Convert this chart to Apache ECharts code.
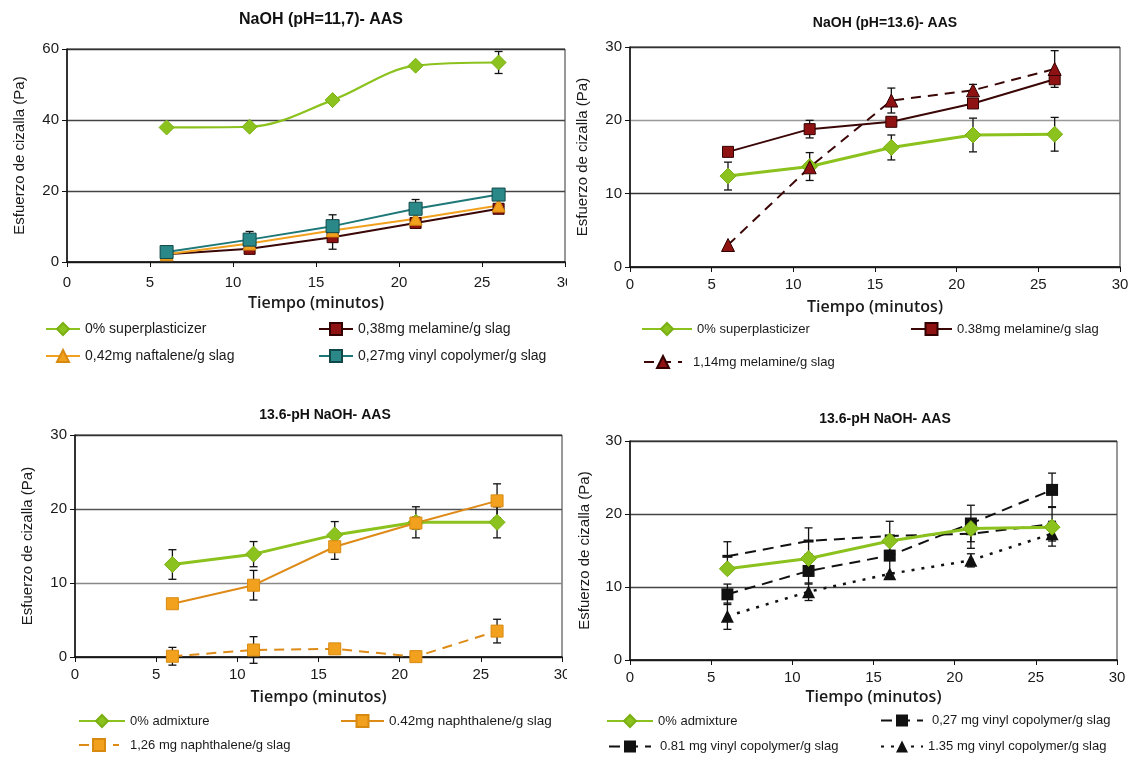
<!DOCTYPE html>
<html>
<head>
<meta charset="utf-8">
<script src="https://cdn.jsdelivr.net/npm/echarts@6/dist/echarts.min.js"></script>
<style>
  html, body { margin: 0; padding: 0; background: #ffffff; }
  #wrap { position: relative; width: 1137px; height: 757px; overflow: hidden; }
  #right { position: absolute; left: 0; top: 0; width: 1137px; height: 757px; }
  #leftClip { position: absolute; left: 0; top: 0; width: 567px; height: 757px; overflow: hidden; }
  #left { width: 1137px; height: 757px; }
</style>
</head>
<body>
<div id="wrap">
  <div id="right"></div>
  <div id="leftClip"><div id="left"></div></div>
</div>
<script>
// Sampling times (minutes)
const time = [6, 11, 16, 21, 26];
const xTicks = [0, 5, 10, 15, 20, 25, 30];

// NaOH (pH=11,7)
const a_plain = [37.9, 38.1, 45.6, 55.3, 56.2];
const a_plainErr = [null, null, null, null, 3.1];
const a_melamine = [2.2, 3.7, 7.0, 11.0, 15.0];
const a_melamineErr = [null, null, 3.4, null, null];
const a_naft = [2.2, 5.2, 8.9, 12.2, 15.9];
const a_vinyl = [2.8, 6.3, 10.1, 15.0, 19.0];
const a_vinylErr = [null, 2.3, 3.2, 2.6, 1.3];

// NaOH (pH=13.6)
const b_plain = [12.4, 13.7, 16.3, 18.0, 18.1];
const b_plainErr = [1.9, 1.9, 1.7, 2.3, 2.3];
const b_melamine = [15.7, 18.8, 19.8, 22.3, 25.6];
const b_melamineErr = [null, 1.2, null, null, null];
const b_melamineHi = [3.0, 13.6, 22.7, 24.1, 27.0];
const b_melamineHiErr = [null, null, 1.7, 0.8, 2.5];

// 13.6-pH NaOH, naphthalene
const c_plain = [12.5, 13.9, 16.5, 18.2, 18.2];
const c_plainErr = [2.0, 1.7, 1.8, 2.1, 2.1];
const c_naph = [7.2, 9.7, 14.9, 18.1, 21.1];
const c_naphErr = [null, 2.0, 1.7, 0.8, 2.3];
const c_naphHi = [0.1, 0.95, 1.1, 0.05, 3.5];
const c_naphHiErr = [1.2, 1.8, null, 0.6, 1.6];

// 13.6-pH NaOH, vinyl copolymer
const d_plain = [12.5, 13.9, 16.3, 18.0, 18.2];
const d_v027 = [14.2, 16.3, 17.0, 17.3, 18.6];
const d_v027Err = [2.0, 1.8, 2.0, 2.0, 2.3];
const d_v081 = [9.0, 12.2, 14.3, 18.7, 23.3];
const d_v081Err = [1.4, 1.8, 2.5, 2.5, 2.3];
const d_v135 = [6.0, 9.35, 11.8, 13.65, 17.3];
const d_v135Err = [1.8, 1.2, null, 0.9, 1.7];

const GREEN = '#8cc21e';
const DARKRED = '#8e1212';
const ORANGE = '#f2a11e';
const TEAL = '#1f7878';
const FONT = '"Liberation Sans", Arial, sans-serif';

function pts(vals) { return vals.map((v, i) => [time[i], v]); }

function errPts(vals, errs) {
  const out = [];
  vals.forEach((v, i) => { if (errs[i] != null) out.push([time[i], v - errs[i], v + errs[i]]); });
  return out;
}

// Vertical error bar with caps, placed through the cartesian scales
function renderErr(params, api) {
  const x = api.value(0);
  const p1 = api.coord([x, api.value(1)]);
  const p2 = api.coord([x, api.value(2)]);
  const w = 4;
  const style = { stroke: '#111', lineWidth: 1.3 };
  return {
    type: 'group',
    children: [
      { type: 'line', shape: { x1: p1[0], y1: p1[1], x2: p2[0], y2: p2[1] }, style },
      { type: 'line', shape: { x1: p1[0] - w, y1: p1[1], x2: p1[0] + w, y2: p1[1] }, style },
      { type: 'line', shape: { x1: p2[0] - w, y1: p2[1], x2: p2[0] + w, y2: p2[1] }, style }
    ]
  };
}

function buildPanel(opt, p, idx) {
  opt.title.push({
    text: p.title, left: p.titleX, top: p.titleY, textAlign: 'center',
    textStyle: { fontFamily: FONT, fontWeight: 'bold', fontSize: p.titleSize, color: '#111' }
  });
  opt.grid.push({ left: p.left, top: p.top, width: p.width, height: p.height,
    show: true, borderColor: '#333', borderWidth: 1, backgroundColor: 'transparent' });
  opt.xAxis.push({
    gridIndex: idx, type: 'value', min: 0, max: 30, interval: 5,
    name: 'Tiempo (minutos)', nameLocation: 'middle', nameGap: p.xNameGap,
    nameTextStyle: { fontFamily: '"Open Sans", sans-serif', fontSize: 16, fontWeight: 600, color: '#1a1a1a' },
    axisLine: { show: true, lineStyle: { color: '#111', width: 1.5 } },
    axisTick: { show: true, length: 5, lineStyle: { color: '#111' } },
    axisLabel: { fontFamily: FONT, fontSize: 15, color: '#1a1a1a', margin: p.xLabelMargin || 10,
      formatter: v => xTicks.includes(v) ? String(v) : '' },
    splitLine: { show: false }
  });
  opt.yAxis.push({
    gridIndex: idx, type: 'value', min: 0, max: p.yMax, interval: p.yMax / 3,
    name: 'Esfuerzo de cizalla (Pa)', nameLocation: 'middle', nameGap: p.yNameGap, nameRotate: 90,
    nameTextStyle: { fontFamily: FONT, fontSize: 15, color: '#1a1a1a' },
    axisLine: { show: true, lineStyle: { color: '#111', width: 1.5 } },
    axisTick: { show: true, length: 5, lineStyle: { color: '#111' } },
    axisLabel: { fontFamily: FONT, fontSize: 15, color: '#1a1a1a', margin: 8 },
    splitLine: { show: true, lineStyle: { color: p.splitColors, width: 1.3 } }
  });
  p.series.forEach(s => {
    opt.series.push(Object.assign({
      type: 'line', xAxisIndex: idx, yAxisIndex: idx, z: 3,
      showSymbol: true, animation: false
    }, s.line));
    if (s.err) {
      opt.series.push({
        type: 'custom', xAxisIndex: idx, yAxisIndex: idx, z: 2, clip: false, silent: true,
        renderItem: renderErr, encode: { x: 0, y: [1, 2] }, data: s.err, animation: false
      });
    }
  });
  p.legends.forEach(l => {
    opt.legend.push({
      data: [l.name], left: l.x, top: l.y - 8, padding: 0,
      itemWidth: l.w, itemHeight: 15, itemGap: 0, selectedMode: false,
      textStyle: { fontFamily: FONT, fontSize: l.size || p.legendSize, color: '#1a1a1a', padding: [0, 0, 0, l.gap || 0] }
    });
  });
}

function newOpt() {
  return { animation: false, title: [], grid: [], xAxis: [], yAxis: [], series: [], legend: [] };
}

const left = newOpt();
const right = newOpt();

buildPanel(left, {
  title: 'NaOH (pH=11,7)- AAS', titleX: 316, titleY: 7, titleSize: 16,
  left: 67, top: 49, width: 498, height: 213, yMax: 60,
  xNameGap: 33, yNameGap: 40, legendSize: 14, xLabelMargin: 13,
  splitColors: ['#333', '#444', '#444', '#333'],
  series: [
    { line: { name: '0% superplasticizer', data: pts(a_plain), smooth: 0.35, symbol: 'diamond', symbolSize: 15,
        lineStyle: { color: GREEN, width: 2.2 }, itemStyle: { color: GREEN, borderColor: '#7ab012', borderWidth: 1 } },
      err: errPts(a_plain, a_plainErr) },
    { line: { name: '0,38mg melamine/g slag', data: pts(a_melamine), symbol: 'rect', symbolSize: 11,
        lineStyle: { color: '#3a0606', width: 2 }, itemStyle: { color: DARKRED, borderColor: '#300', borderWidth: 1 } },
      err: errPts(a_melamine, a_melamineErr) },
    { line: { name: '0,42mg naftalene/g slag', data: pts(a_naft), symbol: 'triangle', symbolSize: 13,
        lineStyle: { color: ORANGE, width: 2 }, itemStyle: { color: ORANGE, borderColor: '#d88a10', borderWidth: 1 } } },
    { line: { name: '0,27mg vinyl copolymer/g slag', data: pts(a_vinyl), symbol: 'rect', symbolSize: 13,
        lineStyle: { color: TEAL, width: 2 }, itemStyle: { color: '#2a8888', borderColor: '#104848', borderWidth: 1 } },
      err: errPts(a_vinyl, a_vinylErr) }
  ],
  legends: [
    { name: '0% superplasticizer', x: 45, y: 330, w: 34 },
    { name: '0,38mg melamine/g slag', x: 318, y: 330, w: 34 },
    { name: '0,42mg naftalene/g slag', x: 45, y: 357, w: 34 },
    { name: '0,27mg vinyl copolymer/g slag', x: 318, y: 357, w: 34 }
  ]
}, 0);

buildPanel(left, {
  title: '13.6-pH NaOH- AAS', titleX: 320, titleY: 403, titleSize: 14,
  left: 75, top: 435, width: 487, height: 222, yMax: 30,
  xNameGap: 32, yNameGap: 40, legendSize: 13,
  splitColors: ['#333', '#888', '#555', '#333'],
  series: [
    { line: { name: '0% admixture', data: pts(c_plain), symbol: 'diamond', symbolSize: 16,
        lineStyle: { color: GREEN, width: 3 }, itemStyle: { color: GREEN, borderColor: '#7ab012', borderWidth: 1 } },
      err: errPts(c_plain, c_plainErr) },
    { line: { name: '0.42mg naphthalene/g slag', data: pts(c_naph), symbol: 'rect', symbolSize: 12,
        lineStyle: { color: '#de8a16', width: 2 }, itemStyle: { color: ORANGE, borderColor: '#d88a10', borderWidth: 1 } },
      err: errPts(c_naph, c_naphErr) },
    { line: { name: '1,26 mg naphthalene/g slag', data: pts(c_naphHi), symbol: 'rect', symbolSize: 12,
        lineStyle: { color: '#de8a16', width: 2, type: [10, 7] }, itemStyle: { color: ORANGE, borderColor: '#d88a10', borderWidth: 1 } },
      err: errPts(c_naphHi, c_naphHiErr) }
  ],
  legends: [
    { name: '0% admixture', x: 78, y: 722, w: 46 },
    { name: '0.42mg naphthalene/g slag', x: 340, y: 722, w: 43, size: 13.5 },
    { name: '1,26 mg naphthalene/g slag', x: 78, y: 746, w: 40, gap: 6 }
  ]
}, 1);

buildPanel(right, {
  title: 'NaOH (pH=13.6)- AAS', titleX: 880, titleY: 11, titleSize: 14,
  left: 630, top: 47, width: 490, height: 220, yMax: 30,
  xNameGap: 32, yNameGap: 40, legendSize: 13,
  splitColors: ['#333', '#333', '#999', '#333'],
  series: [
    { line: { name: '0% superplasticizer', data: pts(b_plain), symbol: 'diamond', symbolSize: 16,
        lineStyle: { color: GREEN, width: 3 }, itemStyle: { color: GREEN, borderColor: '#7ab012', borderWidth: 1 } },
      err: errPts(b_plain, b_plainErr) },
    { line: { name: '0.38mg melamine/g slag', data: pts(b_melamine), symbol: 'rect', symbolSize: 11,
        lineStyle: { color: '#3a0606', width: 2 }, itemStyle: { color: DARKRED, borderColor: '#300', borderWidth: 1 } },
      err: errPts(b_melamine, b_melamineErr) },
    { line: { name: '1,14mg melamine/g slag', data: pts(b_melamineHi), symbol: 'triangle', symbolSize: 13,
        lineStyle: { color: '#3a0606', width: 2, type: [10, 7] }, itemStyle: { color: DARKRED, borderColor: '#300', borderWidth: 1 } },
      err: errPts(b_melamineHi, b_melamineHiErr) }
  ],
  legends: [
    { name: '0% superplasticizer', x: 641, y: 330, w: 50 },
    { name: '0.38mg melamine/g slag', x: 910, y: 330, w: 41 },
    { name: '1,14mg melamine/g slag', x: 643, y: 363, w: 38, gap: 6 }
  ]
}, 0);

buildPanel(right, {
  title: '13.6-pH NaOH- AAS', titleX: 880, titleY: 407, titleSize: 14,
  left: 630, top: 441, width: 487, height: 219, yMax: 30,
  xNameGap: 29, yNameGap: 38, legendSize: 13,
  splitColors: ['#333', '#444', '#444', '#333'],
  series: [
    { line: { name: '0% admixture', data: pts(d_plain), symbol: 'diamond', symbolSize: 16, z: 4,
        lineStyle: { color: GREEN, width: 3 }, itemStyle: { color: GREEN, borderColor: '#7ab012', borderWidth: 1 } } },
    { line: { name: '0,27 mg vinyl copolymer/g slag', data: pts(d_v027), symbol: 'rect', symbolSize: [10, 3],
        lineStyle: { color: '#111', width: 2, type: [11, 7] }, itemStyle: { color: '#111' } },
      err: errPts(d_v027, d_v027Err) },
    { line: { name: '0.81 mg vinyl copolymer/g slag', data: pts(d_v081), symbol: 'rect', symbolSize: 12,
        lineStyle: { color: '#111', width: 2, type: [11, 7] }, itemStyle: { color: '#111' } },
      err: errPts(d_v081, d_v081Err) },
    { line: { name: '1.35 mg vinyl copolymer/g slag', data: pts(d_v135), symbol: 'triangle', symbolSize: 13,
        lineStyle: { color: '#111', width: 2.5, type: [3, 7] }, itemStyle: { color: '#111' } },
      err: errPts(d_v135, d_v135Err) }
  ],
  legends: [
    { name: '0% admixture', x: 606, y: 722, w: 46 },
    { name: '0,27 mg vinyl copolymer/g slag', x: 880, y: 722, w: 42, gap: 4 },
    { name: '0.81 mg vinyl copolymer/g slag', x: 608, y: 748, w: 42, gap: 4 },
    { name: '1.35 mg vinyl copolymer/g slag', x: 880, y: 748, w: 42 }
  ]
}, 1);

const rightChart = echarts.init(document.getElementById('right'), null, { renderer: 'canvas' });
rightChart.setOption(right);
const leftChart = echarts.init(document.getElementById('left'), null, { renderer: 'canvas' });
leftChart.setOption(left);
</script>
</body>
</html>
